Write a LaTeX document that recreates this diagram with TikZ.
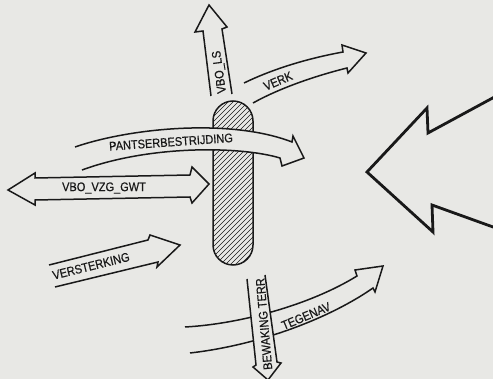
\documentclass[tikz,border=0pt]{standalone}
\usepackage{fontspec}
\setmainfont{Liberation Sans}
\newfontfamily\lettering[FakeStretch=0.88,FakeBold=0.6]{Liberation Sans}
\definecolor{paper}{RGB}{232,232,229}
\definecolor{ink}{RGB}{25,25,25}
\begin{document}
\begin{tikzpicture}[x=1pt,y=-1pt,
  fat/.style={draw=ink, line width=1.5pt, line join=miter},
  lbl/.style={font=\lettering\fontsize{12.5}{12.5}\selectfont, text=ink, inner sep=0pt}]
\useasboundingbox (0,0) rectangle (493,379);
\fill[paper] (0,0) rectangle (493,379);

% hatched body
\begin{scope}
\clip[rounded corners=20] (213,101) rectangle (253,265);
\foreach \i in {40,45,...,260} \draw[ink, line width=0.7pt] (\i,270) -- (\i+180,90);
\end{scope}
\draw[ink, line width=1.5pt, rounded corners=20] (213,101) rectangle (253,265);

% VBO_LS
\fill[paper] (211,96) -- (203,31) -- (195,32) -- (209,5) -- (227,27) -- (222,29) -- (232,94) -- cycle;
\draw[fat] (211,96) -- (203,31) -- (195,32) -- (209,5) -- (227,27) -- (222,29) -- (232,94);

% VERK
\fill[paper] (244,83) .. controls (275,68) and (310,58) .. (343,52) -- (342,45) -- (366,53) -- (348,73) -- (347,68) .. controls (315,76) and (280,88) .. (253,103) -- cycle;
\draw[fat] (244,83) .. controls (275,68) and (310,58) .. (343,52) -- (342,45) -- (366,53) -- (348,73) -- (347,68) .. controls (315,76) and (280,88) .. (253,103);

% PANTSERBESTRIJDING
\fill[paper] (75,147) .. controls (130,128) and (230,118) .. (292,142) -- (293,136) -- (304,158) -- (282,166) -- (280,158) .. controls (240,146) and (150,145) .. (82,170) -- cycle;
\draw[fat] (75,147) .. controls (130,128) and (230,118) .. (292,142) -- (293,136) -- (304,158) -- (282,166) -- (280,158) .. controls (240,146) and (150,145) .. (82,170);

% VBO_VZG_GWT
\filldraw[fat, fill=paper] (8,190) -- (35,173) -- (35,178) -- (190,175) -- (192,167) -- (209,184) -- (192,203) -- (190,197) -- (35,200) -- (35,205) -- cycle;

% VERSTERKING
\fill[paper] (49,265) -- (148,240) -- (150,235) -- (180,245) -- (157,267) -- (158,262) -- (55,287) -- cycle;
\draw[fat] (49,265) -- (148,240) -- (150,235) -- (180,245) -- (157,267) -- (158,262) -- (55,287);

% TEGENAV
\fill[paper] (185,327) .. controls (240,324) and (310,305) .. (357,276) -- (355,270) -- (383,266) -- (375,292) -- (373,288) .. controls (330,318) and (260,345) .. (190,353) -- cycle;
\draw[fat] (185,327) .. controls (240,324) and (310,305) .. (357,276) -- (355,270) -- (383,266) -- (375,292) -- (373,288) .. controls (330,318) and (260,345) .. (190,353);

% BEWAKING TERR
\fill[paper] (247,279) -- (256,365) -- (253,367) -- (268,380) -- (281,363) -- (277,362) -- (265,275) -- cycle;
\draw[fat] (247,279) -- (256,365) -- (253,367) -- (268,380) -- (281,363) -- (277,362) -- (265,275);

% lightning arrow
\draw[ink, line width=2.8pt, line join=miter] (500,94) -- (428,133) -- (427,108) -- (367,172) -- (433,232) -- (432,205) -- (500,229.5);

% labels
\node[lbl, rotate=98] (ls) at (220,72) {VBO\_LS};
\node[lbl, rotate=23] (verk) at (278,81) {VERK};
\node[lbl, rotate=4] (pb) at (171,142) {PANTSERBESTRIJDING};
\node[lbl] (vzg) at (104,188) {VBO\_VZG\_GWT};
\node[lbl, rotate=14] (vs) at (91,266) {VERSTERKING};
\node[lbl, rotate=23] (tg) at (306,316) {TEGENAV};
\node[lbl, rotate=95] (bw) at (264,324) {BEWAKING TERR};
\end{tikzpicture}
\end{document}
